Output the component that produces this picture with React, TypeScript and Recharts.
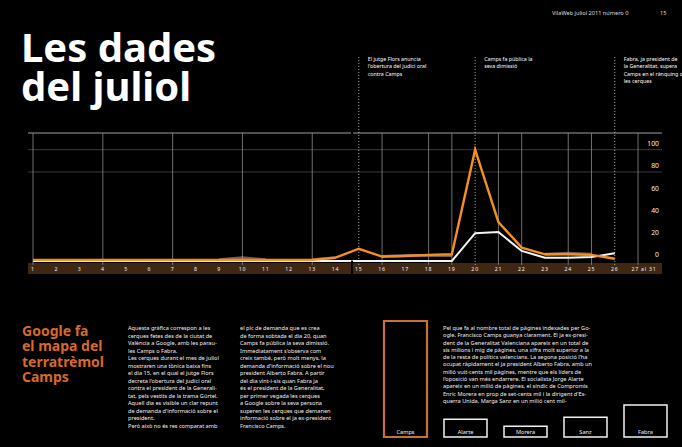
import React from 'react';
import {
  LineChart,
  Line,
  XAxis,
  YAxis,
  ReferenceLine,
  ReferenceArea,
  BarChart,
  Bar,
  Cell,
  LabelList,
} from 'recharts';

// ---- data ----
const dayLabels = [
  '1', '2', '3', '4', '5', '6', '7', '8', '9', '10', '11', '12', '13', '14',
  '15', '16', '17', '18', '19', '20', '21', '22', '23', '24', '25', '26', '27 al 31',
];
const campsSearches = [
  1, 1, 1, 1, 1, 1, 1, 1, 1, 1, 1, 1, 1, 3, 11, 4, 4.5, 5.5, 6, 100, 35, 12, 6, 6, 5.5, 2, null,
];
const fabraSearches = [
  0, 0, 0, 0, 0, 0, 0, 0, 0, 0, 0, 0, 0, 0, 0, 0, 0, 0, 0, 25, 26, 9, 3, 3, 3.5, 7, null,
];
const otherSearches = [
  null, null, null, null, null, null, null, null, 1, 3, 1, null, 1, 3, null, 4, 5, 5, 5, null,
  null, null, 6, 7, 6, null, null,
];
const yTicks = [0, 20, 40, 60, 80, 100];
const gridDays = [1, 4, 7, 10, 13, 16, 18, 19, 21, 22, 24, 25, 27];
const eventDays = [15, 20, 26];
const eventNotes = [
  ['El jutge Flors anuncia', "l'obertura del judici oral", 'contra Camps'],
  ['Camps fa pública la', 'seva dimissió'],
  ['Fabra, ja president de', 'la Generalitat, supera', 'Camps en el rànquing de', 'les cerques'],
];
const politicians = ['Camps', 'Alarte', 'Morera', 'Sanz', 'Fabra'];
const indexedPagesMillions = [6.5, 1.0, 0.6, 1.1, 1.8];

const searchData = dayLabels.map((label, i) => ({
  day: i + 1,
  label,
  camps: campsSearches[i],
  fabra: fabraSearches[i],
  altres: otherSearches[i],
}));
const pagesData = politicians.map((name, i) => ({ name, pages: indexedPagesMillions[i] }));

const col1 = [
  'Aquesta gràfica correspon a les',
  'cerques fetes des de la ciutat de',
  'València a Google, amb les parau-',
  'les Camps o Fabra.',
  'Les cerques durant el mes de juliol',
  'mostraren una tònica baixa fins',
  'el dia 15, en el qual el jutge Flors',
  "decreta l'obertura del judici oral",
  'contra el president de la Generali-',
  'tat, pels vestits de la trama Gürtel.',
  'Aquell dia es visible un clar repunt',
  "de demanda d'informació sobre el",
  'president.',
  'Però això no és res comparat amb',
];
const col2 = [
  'el pic de demanda que es crea',
  'de forma sobtada el dia 20, quan',
  'Camps fa pública la seva dimissió.',
  "Immediatament s'observa com",
  'creix també, però molt menys, la',
  "demanda d'informació sobre el nou",
  'president Alberto Fabra. A partir',
  'del dia vint-i-sis quan Fabra ja',
  'és el president de la Generalitat,',
  'per primer vegada les cerques',
  'a Google sobre la seva persona',
  'superen les cerques que demanen',
  'informació sobre el ja ex-president',
  'Francisco Camps.',
];
const col3 = [
  'Pel que fa al nombre total de pàgines indexades per Go-',
  'ogle, Francisco Camps guanya clarament. El ja ex-presi-',
  'dent de la Generalitat Valenciana apareix en un total de',
  'sis milions i mig de pàgines, una xifra molt superior a la',
  'de la resta de polítics valencians. La segona posició l\u2019ha',
  'ocupat ràpidament el ja president Alberto Fabra, amb un',
  'milió vuit-cents mil pàgines, mentre que els líders de',
  "l'oposició van més endarrere. El socialista Jorge Alarte",
  'apareix en un milió de pàgines, el síndic de Compromís',
  "Enric Morera en prop de set-cents mil i la dirigent d'Es-",
  'querra Unida, Marga Sanz en un milió cent mil-',
];

const ORANGE = '#f3901f';
const FONT = '"Noto Sans", "DejaVu Sans", sans-serif';

const EventLabel = (props: any) => {
  const vb = props.viewBox || {};
  const lines: string[] = props.lines || [];
  return (
    <text x={vb.x + 9} y={vb.y + 4} fill="#fff" fontSize={5.3} fontFamily={FONT}>
      {lines.map((l, i) => (
        <tspan key={i} x={vb.x + 9} dy={i === 0 ? 0 : 7.3}>
          {l}
        </tspan>
      ))}
    </text>
  );
};

const ValueLabel = (props: any) => {
  const vb = props.viewBox || {};
  return (
    <text
      x={vb.x + vb.width - 3}
      y={vb.y - 3.5}
      fill="#f0f0f0"
      fontSize={6.8}
      fontFamily={FONT}
      textAnchor="end"
    >
      {props.value}
    </text>
  );
};

const DayTick = (props: any) => {
  const { x, y, payload } = props;
  const label = dayLabels[payload.value - 1] ?? '';
  return (
    <text
      x={x + (payload.value === 27 ? 6 : 0)}
      y={y - 3.5}
      fill="#f2f2f2"
      fontSize={5.2}
      fontFamily={FONT}
      textAnchor="middle"
      letterSpacing={0.8}
    >
      {label}
    </text>
  );
};

const Paragraph = ({ lines, left, top, lh }: { lines: string[]; left: number; top: number; lh: number }) => (
  <div
    style={{
      position: 'absolute',
      left,
      top,
      color: '#f2f2f2',
      fontFamily: FONT,
      fontSize: 5.6,
      lineHeight: `${lh}px`,
      whiteSpace: 'nowrap',
    }}
  >
    {lines.map((l, i) => (
      <div key={i}>{l}</div>
    ))}
  </div>
);

export default function App() {
  const xMin = 0.785;
  const xMax = 28.03;
  const yMin = -11.7;
  const yMax = 183.3;
  return (
    <div
      style={{
        position: 'absolute',
        left: 0,
        top: 0,
        width: 682,
        height: 447,
        background: '#000',
        overflow: 'hidden',
      }}
    >
      <div
        style={{
          position: 'absolute',
          left: 552,
          top: 9,
          color: '#ddd',
          fontFamily: FONT,
          fontSize: 5.6,
          whiteSpace: 'nowrap',
        }}
      >
        VilaWeb juliol 2011 número 0
      </div>
      <div
        style={{
          position: 'absolute',
          left: 660,
          top: 9,
          color: '#ddd',
          fontFamily: FONT,
          fontSize: 5.6,
          whiteSpace: 'nowrap',
        }}
      >
        15
      </div>
      <div
        style={{
          position: 'absolute',
          left: 21,
          top: 27,
          color: '#fff',
          fontFamily: FONT,
          fontWeight: 700,
          fontSize: 40,
          lineHeight: '39px',
          whiteSpace: 'nowrap',
        }}
      >
        Les dades
        <br />
        del juliol
      </div>

      <div style={{ position: 'absolute', left: 0, top: 0 }}>
        <LineChart
          width={682}
          height={300}
          data={searchData}
          margin={{ top: 57, right: 20, bottom: 16, left: 28 }}
        >
          <XAxis
            dataKey="day"
            type="number"
            domain={[xMin, xMax]}
            ticks={searchData.map((d) => d.day)}
            interval={0}
            axisLine={false}
            tickLine={false}
            tickSize={0}
            tickMargin={0}
            height={10}
            tick={<DayTick />}
            allowDataOverflow
          />
          <YAxis hide domain={[yMin, yMax]} allowDataOverflow />
          <ReferenceArea x1={xMin} x2={xMax} y1={yMin} y2={-1.8} fill="#3f2714" fillOpacity={1} stroke="none" />
          <ReferenceLine y={115} stroke="#6a6a6a" strokeWidth={1.5} />
          <ReferenceLine y={100} stroke="#3a3a3a" strokeWidth={1} />
          <ReferenceLine y={80} stroke="#3a3a3a" strokeWidth={1} />
          {yTicks.map((v) => (
            <ReferenceLine
              key={`v${v}`}
              y={v}
              stroke="none"
              label={(p: any) => <ValueLabel {...p} value={v} />}
            />
          ))}
          {gridDays.map((d) => (
            <ReferenceLine
              key={`g${d}`}
              segment={[
                { x: d, y: -3.5 },
                { x: d, y: 115 },
              ]}
              stroke="#8a8a8a"
              strokeWidth={0.8}
            />
          ))}
          {eventDays.map((d, i) => (
            <ReferenceLine
              key={`e${d}`}
              segment={[
                { x: d, y: -3.5 },
                { x: d, y: yMax },
              ]}
              stroke="#cfcfcf"
              strokeWidth={0.9}
              strokeDasharray="1 2"
              label={(p: any) => <EventLabel {...p} lines={eventNotes[i]} />}
            />
          ))}
          <Line
            dataKey="altres"
            stroke="#d7a5a0"
            strokeOpacity={0.55}
            strokeWidth={3}
            dot={false}
            isAnimationActive={false}
            connectNulls={false}
          />
          <Line
            dataKey="fabra"
            stroke="#f4f4f4"
            strokeWidth={2}
            dot={false}
            isAnimationActive={false}
          />
          <Line
            dataKey="camps"
            stroke={ORANGE}
            strokeWidth={2.4}
            dot={false}
            isAnimationActive={false}
          />
          <ReferenceLine
            segment={[
              { x: 14.71, y: yMin },
              { x: 14.71, y: 0.4 },
            ]}
            stroke="#000"
            strokeWidth={2}
          />
          <ReferenceLine
            segment={[
              { x: 14.71, y: 113.5 },
              { x: 14.71, y: 116.5 },
            ]}
            stroke="#000"
            strokeWidth={2}
          />
        </LineChart>
      </div>

      <div
        style={{
          position: 'absolute',
          left: 22,
          top: 323,
          color: '#d8692a',
          fontFamily: FONT,
          fontWeight: 700,
          fontSize: 14,
          lineHeight: '15.4px',
          whiteSpace: 'nowrap',
        }}
      >
        Google fa
        <br />
        el mapa del
        <br />
        terratrèmol
        <br />
        Camps
      </div>

      <Paragraph lines={col1} left={128} top={325} lh={7.5} />
      <Paragraph lines={col2} left={240} top={325} lh={7.5} />
      <Paragraph lines={col3} left={443} top={325} lh={7.3} />

      <div style={{ position: 'absolute', left: 375, top: 300 }}>
        <BarChart
          width={300}
          height={140}
          data={pagesData}
          margin={{ top: 21, right: 0, bottom: 3, left: 0 }}
        >
          <XAxis dataKey="name" hide />
          <YAxis hide domain={[0, 6.5]} />
          <Bar dataKey="pages" barSize={43} isAnimationActive={false} fill="#000">
            {pagesData.map((d, i) => (
              <Cell
                key={d.name}
                fill="#000"
                stroke={i === 0 ? '#c9703a' : '#f2f2f2'}
                strokeWidth={i === 0 ? 2.2 : 1.5}
              />
            ))}
            <LabelList
              dataKey="name"
              position="insideBottom"
              offset={3}
              fill="#f2f2f2"
              fontSize={5.6}
              fontFamily={FONT}
            />
          </Bar>
        </BarChart>
      </div>
    </div>
  );
}
